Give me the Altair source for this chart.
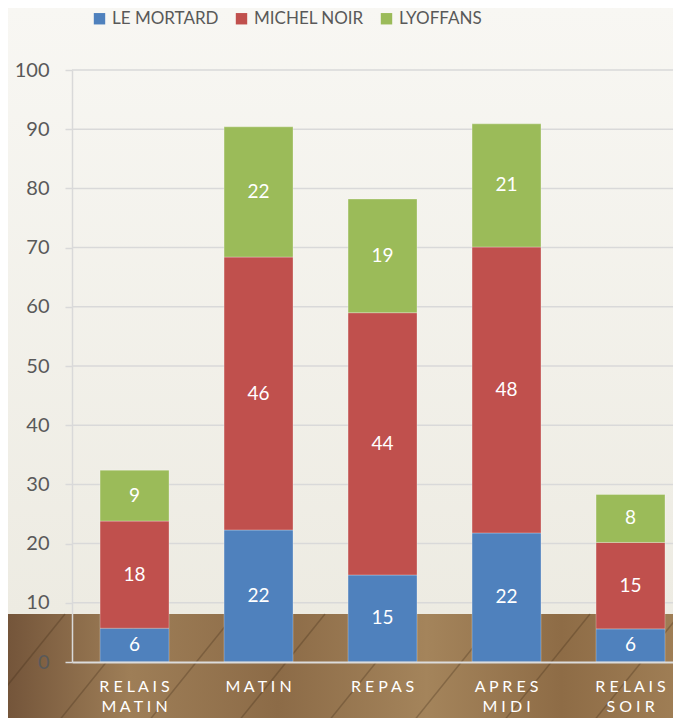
import altair as alt
import pandas as pd

categories = ["RELAIS MATIN", "MATIN", "REPAS", "APRES MIDI", "RELAIS SOIR"]
series = ["LE MORTARD", "MICHEL NOIR", "LYOFFANS"]
le_mortard = [5.7, 22.3, 14.7, 21.8, 5.6]
michel_noir = [18.1, 46.1, 44.3, 48.3, 14.6]
lyoffans = [8.6, 22.0, 19.2, 20.8, 8.1]
colors = ["#4F81BD", "#C0504D", "#9BBB59"]
y_ticks = [0, 10, 20, 30, 40, 50, 60, 70, 80, 90, 100]

rows = []
for s_i, (s, vals) in enumerate(zip(series, [le_mortard, michel_noir, lyoffans])):
    for c, v in zip(categories, vals):
        rows.append({"category": c, "series": s, "value": v, "order": s_i})
df = pd.DataFrame(rows)

W, H = 601, 592
FONT = "Lato"

# x label expression: spaced letters, one word per line
parts = []
for c in categories:
    lines = [" ".join(list(w)) for w in c.split(" ")]
    arr = "[" + ",".join("'" + l + "'" for l in lines) + "]"
    parts.append(f"datum.value == '{c}' ? {arr} : ")
label_expr = "".join(parts) + "datum.value"

x_scale = alt.Scale(paddingInner=0.444, paddingOuter=0.1455, align=0.778)
y_scale = alt.Scale(domain=[0, 100], nice=False)

one = pd.DataFrame({"a": [0]})

bg = alt.Chart(one).mark_rect(
    color=alt.LinearGradient(
        gradient="linear", x1=0, x2=0, y1=0, y2=1,
        stops=[alt.GradientStop(offset=0, color="#F8F7F3"),
               alt.GradientStop(offset=1, color="#EDEBE2")]),
).encode(x=alt.value(-64), x2=alt.value(W + 10), y=alt.value(-62), y2=alt.value(544))

wood = alt.Chart(one).mark_rect(
    color=alt.LinearGradient(
        gradient="linear", x1=0, x2=1, y1=0, y2=0,
        stops=[alt.GradientStop(offset=0, color="#74553A"),
               alt.GradientStop(offset=0.18, color="#9E7E57"),
               alt.GradientStop(offset=0.4, color="#8C6B47"),
               alt.GradientStop(offset=0.62, color="#A4845B"),
               alt.GradientStop(offset=0.82, color="#8E6C46"),
               alt.GradientStop(offset=1, color="#A07F56")]),
).encode(x=alt.value(-64), x2=alt.value(W + 10), y=alt.value(544), y2=alt.value(H + 70))

# decorative plank seams (page x at floor bottom)
seam_bottoms = [-30, 50, 140, 230, 320, 405, 495, 585, 665]
seams = alt.layer(*[
    alt.Chart(one).mark_rule(color="#3E2A18", strokeOpacity=0.3, strokeWidth=1.5).encode(
        x=alt.value(b - 72), x2=alt.value(b - 72 + 95), y=alt.value(H + 70), y2=alt.value(544))
    for b in seam_bottoms
])

grid = alt.Chart(pd.DataFrame({"t": y_ticks[1:]})).mark_rule(
    color="#D9D9D9", strokeWidth=1.5
).encode(y=alt.Y("t:Q", scale=y_scale))

bars = alt.Chart(df).mark_bar(stroke="#FFFFFF", strokeOpacity=0.35, strokeWidth=0.8).encode(
    x=alt.X("category:N", sort=categories, scale=x_scale,
            axis=alt.Axis(title=None, labelAngle=0, labelColor="#FFFFFF", labelFontSize=16,
                          labelFont=FONT, labelPadding=16, ticks=False, domainColor="#DCDCDC",
                          domainWidth=2, labelExpr=label_expr, labelLineHeight=20, zindex=1)),
    y=alt.Y("value:Q", stack="zero", scale=y_scale,
            axis=alt.Axis(title=None, values=y_ticks, grid=False, labelFontSize=20, labelFont=FONT,
                          labelColor="#595959", labelPadding=16, tickSize=7, tickColor="#D9D9D9",
                          tickWidth=1.5, domainColor="#D9D9D9", domainWidth=1.5, zindex=1)),
    color=alt.Color("series:N", sort=series, scale=alt.Scale(domain=series, range=colors),
                    legend=alt.Legend(title=None, orient="none", direction="horizontal",
                                      legendX=19, legendY=-60, symbolType="square", symbolSize=130,
                                      symbolStrokeWidth=0, labelFontSize=17, labelFont=FONT,
                                      labelColor="#595959", columnPadding=14, padding=0,
                                      labelOffset=4)),
    order=alt.Order("order:Q"),
)

texts = alt.Chart(df).transform_stack(
    stack="value", groupby=["category"], as_=["v0", "v1"],
    sort=[alt.SortField("order", order="ascending")]
).transform_calculate(
    mid="(datum.v0 + datum.v1) / 2"
).mark_text(color="#FFFFFF", fontSize=19, font=FONT).encode(
    x=alt.X("category:N", sort=categories, scale=x_scale),
    y=alt.Y("mid:Q", scale=y_scale),
    text=alt.Text("value:Q", format=".0f"),
)

chart = alt.layer(bg, wood, seams, grid, bars, texts).properties(
    width=W, height=H,
    autosize=alt.AutoSizeParams(type="none"),
    padding={"left": 64, "top": 62, "right": 0, "bottom": 56},
    background="#F4F2EC",
).configure_view(strokeWidth=0)

chart.save("out.html", embed_options={"renderer": "svg", "actions": False})
